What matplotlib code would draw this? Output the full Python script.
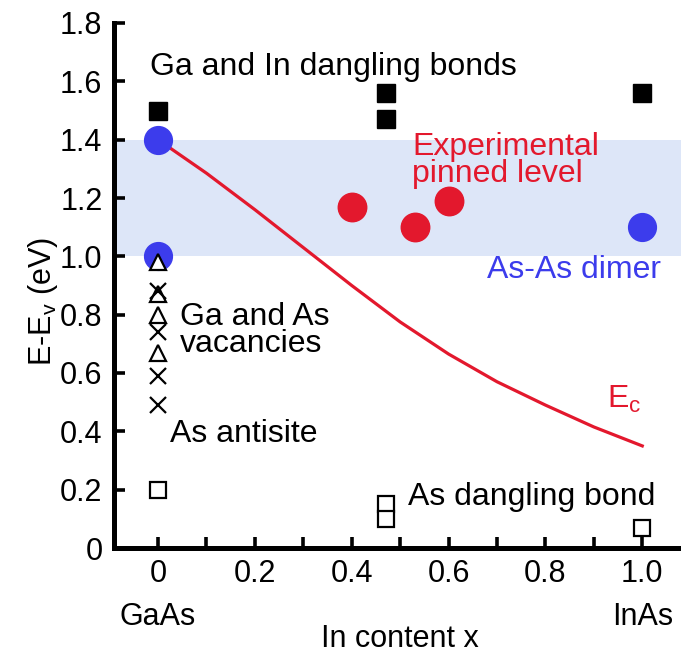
import numpy as np
import matplotlib.pyplot as plt

plt.rcParams['font.family'] = ['Liberation Sans', 'DejaVu Sans']
plt.rcParams['mathtext.fontset'] = 'custom'
plt.rcParams['mathtext.rm'] = 'Liberation Sans'
plt.rcParams['mathtext.it'] = 'Liberation Sans'
plt.rcParams['mathtext.default'] = 'regular'

# conduction band edge vs In content
ec_x = [0.0, 0.1, 0.2, 0.3, 0.4, 0.5, 0.6, 0.7, 0.8, 0.9, 1.0]
ec_y = [1.40, 1.285, 1.16, 1.03, 0.90, 0.775, 0.665, 0.57, 0.49, 0.415, 0.35]

# Ga / In dangling bonds
dang_x = [0.0, 0.47, 0.47, 1.0]
dang_y = [1.50, 1.56, 1.47, 1.56]

# As-As dimer
dimer_x = [0.0, 0.0, 1.0]
dimer_y = [1.40, 1.00, 1.10]

# experimental pinned level
exp_x = [0.40, 0.53, 0.60]
exp_y = [1.17, 1.10, 1.19]

# Ga and As vacancies
vac_x = [0.0, 0.0, 0.0, 0.0]
vac_y = [0.98, 0.87, 0.80, 0.67]

# As antisite
anti_x = [0.0, 0.0, 0.0, 0.0]
anti_y = [0.88, 0.74, 0.59, 0.49]

# As dangling bond
asdb_x = [0.0, 0.47, 0.47, 1.0]
asdb_y = [0.20, 0.15, 0.10, 0.07]

band_lo, band_hi = 1.0, 1.4

xticks = [0.0, 0.1, 0.2, 0.3, 0.4, 0.5, 0.6, 0.7, 0.8, 0.9, 1.0]
xticklabels = ['0', '', '0.2', '', '0.4', '', '0.6', '', '0.8', '', '1.0']
yticks = [0.0, 0.2, 0.4, 0.6, 0.8, 1.0, 1.2, 1.4, 1.6, 1.8]
yticklabels = ['0', '0.2', '0.4', '0.6', '0.8', '1.0', '1.2', '1.4', '1.6', '1.8']

red = '#e3182d'
blue = '#3c3cec'

fig = plt.figure(figsize=(6.81, 6.56), dpi=100)
ax = fig.add_axes([113.5/681, 1-548/656, 1-113.5/681, (548-23)/656])

ax.axhspan(band_lo, band_hi, color='#dde6f8', lw=0, zorder=0)
ax.plot(ec_x, ec_y, color=red, lw=2.3, zorder=2, solid_joinstyle='round')

ax.plot(dang_x, dang_y, 's', color='black', ms=12.5, zorder=3)
ax.plot(dimer_x, dimer_y, 'o', color=blue, ms=20, zorder=3)
ax.plot(exp_x, exp_y, 'o', color=red, ms=20.5, zorder=3)
ax.plot(vac_x, vac_y, '^', mfc='white', mec='black', mew=1.6, ms=12, zorder=4)
ax.plot(anti_x, anti_y, 'x', color='black', mew=1.6, ms=12, zorder=5)
ax.plot(asdb_x, asdb_y, 's', mfc='white', mec='black', mew=1.6, ms=11, zorder=4)

fs = 23
ax.text(-0.0165, 1.622, 'Ga and In dangling bonds', fontsize=fs, va='baseline')
ax.text(0.525, 1.255, 'Experimental\npinned level', fontsize=fs, color=red,
        va='baseline', linespacing=0.85)
ax.text(0.68, 0.926, 'As-As dimer', fontsize=fs, color=blue, va='baseline')
ax.text(0.045, 0.672, 'Ga and As\nvacancies', fontsize=fs, va='baseline',
        linespacing=0.85)
ax.text(0.025, 0.364, 'As antisite', fontsize=fs, va='baseline')
ax.text(0.927, 0.48, 'E$_c$', fontsize=fs, color=red, va='baseline')
ax.text(0.517, 0.147, 'As dangling bond', fontsize=fs, va='baseline')

ax.set_xlim(-0.092, 1.08)
ax.set_ylim(0, 1.8)
ax.set_xticks(xticks)
ax.set_xticklabels(xticklabels)
ax.set_yticks(yticks)
ax.set_yticklabels(yticklabels)
ax.tick_params(direction='in', length=8, width=2.6, labelsize=22, pad=8)

for s in ['top', 'right']:
    ax.spines[s].set_visible(False)
for s in ['left', 'bottom']:
    ax.spines[s].set_linewidth(3.6)
ax.spines['left'].set_capstyle('projecting')

ax.text(0.0, -0.264, 'GaAs', fontsize=22, ha='center', va='baseline', clip_on=False)
ax.text(1.0, -0.264, 'InAs', fontsize=22, ha='center', va='baseline', clip_on=False)
fig.text(400/681, 1-647/656, 'In content x', fontsize=22, ha='center', va='baseline')
fig.text(43/681, 1-302/656, 'E-E$_v$ (eV)', fontsize=22, rotation=90,
         ha='center', va='center')

fig.savefig('out.png', dpi=100)
